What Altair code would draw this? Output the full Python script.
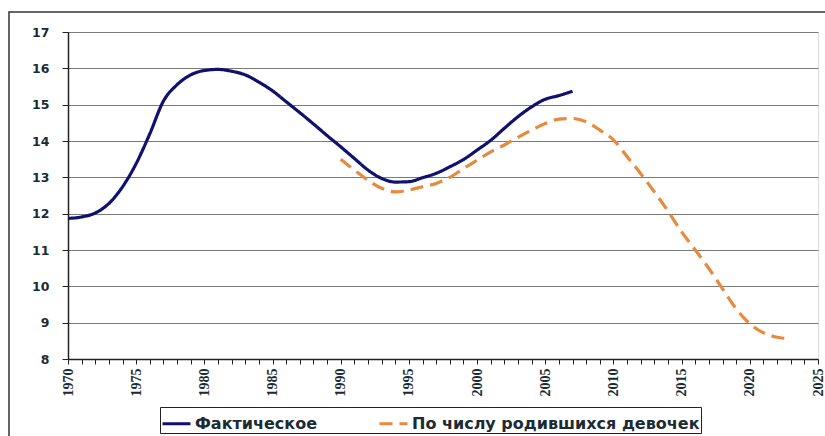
import altair as alt
import pandas as pd

years_actual = list(range(1970, 2008))
actual = [11.87, 11.91, 12.02, 12.28, 12.74, 13.38, 14.2, 15.1, 15.55, 15.82,
          15.94, 15.97, 15.92, 15.82, 15.62, 15.38, 15.08, 14.78, 14.47, 14.15,
          13.84, 13.52, 13.2, 12.97, 12.87, 12.88, 12.99, 13.11, 13.29, 13.49,
          13.75, 14.02, 14.35, 14.67, 14.94, 15.15, 15.25, 15.37]

years_girls = list(range(1990, 2024))
girls = [13.5, 13.2, 12.92, 12.7, 12.6, 12.65, 12.74, 12.83, 13.0, 13.24,
         13.47, 13.7, 13.89, 14.1, 14.3, 14.48, 14.6, 14.62, 14.53, 14.3,
         14.03, 13.57, 13.1, 12.6, 12.07, 11.5, 11.0, 10.49, 9.93, 9.38,
         8.97, 8.72, 8.6, 8.56]

series_names = ["Фактическое", "По числу родившихся девочек"]
x_ticks = list(range(1970, 2026))
y_ticks = list(range(8, 18))

df = pd.concat([
    pd.DataFrame({"year": years_actual, "value": actual, "series": series_names[0]}),
    pd.DataFrame({"year": years_girls, "value": girls, "series": series_names[1]}),
])

W, H = 750, 327
label_color = "#1b2b33"

legend_opts = dict(title=None, orient="none", legendX=92, legendY=375,
                   direction="horizontal", symbolType="stroke",
                   symbolSize=784, symbolStrokeWidth=3,
                   strokeColor="#222", padding=1, columnPadding=55,
                   labelFont="DejaVu Sans", labelFontWeight="bold",
                   labelFontSize=16, labelColor=label_color,
                   labelOffset=3, labelLimit=420)

lines = alt.Chart(df).mark_line(interpolate="monotone", strokeWidth=3.2).encode(
    x=alt.X("year:Q",
            scale=alt.Scale(domain=[1970, 2025], nice=False, zero=False),
            axis=alt.Axis(values=x_ticks, title=None, grid=False,
                          labelExpr="datum.value % 5 == 0 ? datum.label : ''",
                          labelOverlap=False, labelAngle=270, labelAlign="right",
                          labelBaseline="middle", labelPadding=4, tickSize=5,
                          tickColor="#222", domainColor="#222", domainWidth=1.5,
                          labelFont="Liberation Sans Narrow", labelFontWeight="bold",
                          labelFontSize=14, labelColor=label_color, format="d")),
    y=alt.Y("value:Q",
            scale=alt.Scale(domain=[8, 17], nice=False, zero=False),
            axis=alt.Axis(values=y_ticks, title=None, grid=True, gridColor="#7a7a7a",
                          gridWidth=1.2, tickSize=6, tickColor="#222",
                          domainColor="#222", domainWidth=1.5, labelPadding=13,
                          labelFont="DejaVu Sans", labelFontWeight="bold",
                          labelFontSize=12.5, labelColor=label_color)),
    color=alt.Color("series:N",
                    scale=alt.Scale(domain=series_names, range=["#10106e", "#e58a3e"]),
                    legend=alt.Legend(**legend_opts)),
    strokeDash=alt.StrokeDash("series:N",
                              scale=alt.Scale(domain=series_names, range=[[1, 0], [13, 7]]),
                              legend=alt.Legend(**legend_opts)),
)

frame = alt.Chart(pd.DataFrame({"k": [0]})).mark_rect(
    filled=False, stroke="#333", strokeWidth=1.5
).encode(x=alt.value(-59), x2=alt.value(770), y=alt.value(-20), y2=alt.value(420))

chart = alt.layer(frame, lines).properties(
    width=W, height=H,
    autosize=alt.AutoSizeParams(type="none"),
    padding={"left": 68, "top": 32, "right": 7, "bottom": 77},
).configure_view(stroke="#9a9a9a", strokeWidth=1.2).configure(background="white")

chart.save("out.html", embed_options={"renderer": "svg", "actions": False})
